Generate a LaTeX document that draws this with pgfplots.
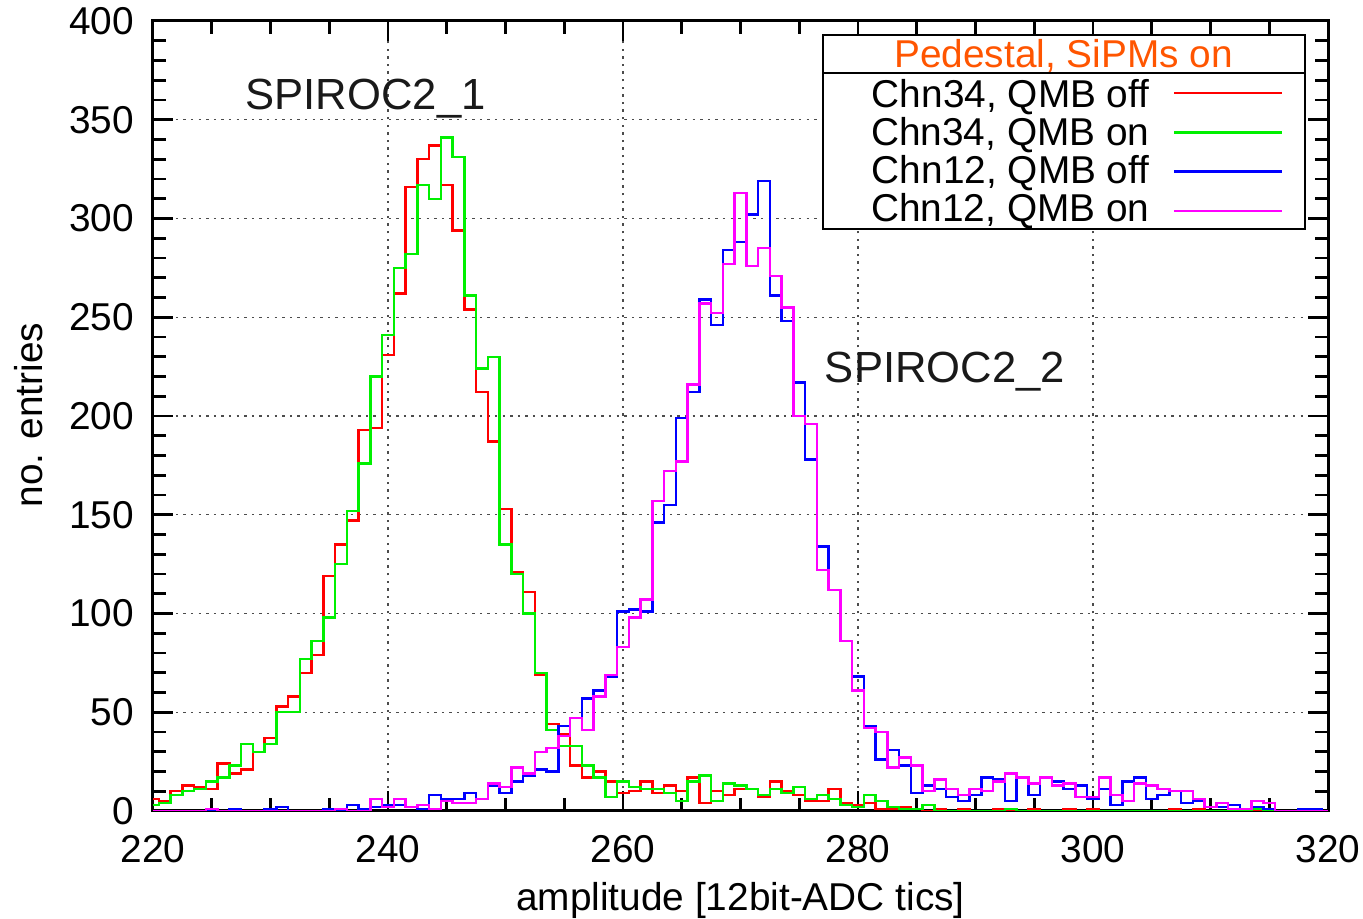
\documentclass[border=0pt]{standalone}
\usepackage{fontspec}
\setmainfont{Liberation Sans}
\usepackage{pgfplots}
\usepackage{pgfplotstable}
\pgfplotsset{compat=1.18}
\definecolor{pedorange}{RGB}{255,85,0}
\definecolor{hred}{RGB}{255,0,0}
\definecolor{hgreen}{RGB}{0,240,0}
\definecolor{hblue}{RGB}{0,0,255}
\definecolor{hmag}{RGB}{255,0,255}
\newcommand{\tfont}{\fontsize{19.4}{23}\selectfont}
\newcommand{\afont}{\fontsize{21.8}{26}\selectfont}

% histogram contents, one row per ADC bin (bin centre)
% r: Chn34 QMB off, g: Chn34 QMB on, b: Chn12 QMB off, m: Chn12 QMB on
\pgfplotstableread{
x r g b m
220 6 3 0 0
221 5 4 0 0
222 10 8 0 0
223 13 10 0 0
224 12 11 0 0
225 11 15 0 1
226 24 17 0 0
227 19 23 1 0
228 21 34 0 0
229 30 30 0 0
230 37 34 1 0
231 53 50 2 0
232 58 50 0 0
233 70 77 0 0
234 79 86 0 0
235 119 98 1 0
236 135 125 0 1
237 147 152 3 0
238 193 176 1 0
239 194 220 2 6
240 231 241 3 2
241 262 275 3 6
242 316 282 2 2
243 330 317 1 3
244 337 310 8 1
245 317 341 6 5
246 294 331 6 4
247 254 261 9 4
248 212 224 6 6
249 187 230 13 14
250 153 135 9 12
251 121 120 15 22
252 111 100 18 19
253 69 70 21 30
254 44 41 20 32
255 39 33 43 38
256 23 33 47 47
257 17 23 57 41
258 20 17 61 58
259 15 7 68 69
260 9 15 101 83
261 10 12 102 98
262 15 11 101 107
263 9 11 146 157
264 13 9 155 172
265 10 5 199 177
266 17 15 212 216
267 4 18 259 257
268 10 5 246 252
269 8 14 284 277
270 11 13 288 313
271 11 11 302 276
272 7 8 319 285
273 15 11 261 271
274 10 9 248 255
275 8 12 217 200
276 5 6 178 196
277 5 8 134 122
278 11 6 112 112
279 4 3 86 86
280 3 2 68 61
281 4 8 43 42
282 1 5 26 40
283 1 2 31 22
284 2 1 23 27
285 1 1 9 23
286 0 3 13 10
287 1 0 11 16
288 0 0 7 11
289 1 0 5 8
290 0 0 8 11
291 0 0 17 10
292 1 0 16 15
293 0 1 5 19
294 0 0 17 17
295 1 0 8 14
296 0 0 17 17
297 0 0 15 13
298 1 0 11 14
299 0 0 13 7
300 1 0 6 7
301 0 0 11 17
302 0 0 3 8
303 0 0 15 5
304 0 0 17 14
305 0 0 6 13
306 0 0 8 11
307 1 0 10 10
308 0 0 4 10
309 1 0 5 6
310 0 0 2 2
311 0 0 2 4
312 0 0 3 1
313 0 0 1 1
314 0 1 2 5
315 0 0 1 4
316 0 0 0 0
317 0 0 0 0
318 1 0 1 0
319 0 0 1 0
320 0 0 0 0
}\hist

\begin{document}
\begin{tikzpicture}
\begin{axis}[
  scale only axis, width=587.5pt, height=395pt,
  xmin=220, xmax=320, ymin=0, ymax=400,
  xtick={220,240,...,320}, ytick={0,50,...,400},
  minor x tick num=3, minor y tick num=4,
  tick align=inside, tick pos=both,
  major tick length=10pt, minor tick length=6.5pt,
  every tick/.style={black, line width=1.3pt},
  axis line style={line width=1.5pt},
  grid=major,
  major grid style={black!70, line width=0.6pt, dash pattern=on 1.2pt off 2.6pt},
  /pgf/number format/assume math mode=true,
  tick label style={font=\tfont},
  xticklabel style={yshift=-8.5pt},
  yticklabel style={xshift=-6pt},
  xlabel={amplitude [12bit-ADC tics]},
  ylabel={no. entries},
  label style={font=\tfont},
  xlabel style={at={(axis description cs:0.5,-0.113)}, anchor=center},
  ylabel style={at={(axis description cs:-0.1055,0.501)}, anchor=center},
  every axis plot/.append style={const plot mark mid, line width=1.2pt},
]
\addplot[hred] table[x=x, y=r] {\hist};
\addplot[hgreen] table[x=x, y=g] {\hist};
\addplot[hblue] table[x=x, y=b] {\hist};
\addplot[hmag] table[x=x, y=m] {\hist};

\node[font=\afont, text=black!90] at (axis cs:238.1,360.6) {SPIROC2\textunderscore 1};
\node[font=\afont, text=black!90] at (axis cs:287.4,222.4) {SPIROC2\textunderscore 2};

% gnuplot-style key
\draw[line width=1pt, fill=white] (axis cs:276.99,294.6) rectangle (axis cs:318.04,393.0);
\draw[line width=1pt] (axis cs:276.99,373.6) -- (axis cs:318.04,373.6);
\node[font=\tfont, text=pedorange, anchor=base, inner sep=0pt] at (axis cs:297.5,376.6) {Pedestal, SiPMs on};
\node[font=\tfont, anchor=base east, inner sep=0pt] at (axis cs:304.84,356.0) {Chn34, QMB off};
\node[font=\tfont, anchor=base east, inner sep=0pt] at (axis cs:304.84,337.0) {Chn34, QMB on};
\node[font=\tfont, anchor=base east, inner sep=0pt] at (axis cs:304.84,317.7) {Chn12, QMB off};
\node[font=\tfont, anchor=base east, inner sep=0pt] at (axis cs:304.84,298.3) {Chn12, QMB on};
\draw[hred, line width=1.2pt] (axis cs:306.9,363.6) -- (axis cs:316.1,363.6);
\draw[hgreen, line width=1.2pt] (axis cs:306.9,343.6) -- (axis cs:316.1,343.6);
\draw[hblue, line width=1.2pt] (axis cs:306.9,323.7) -- (axis cs:316.1,323.7);
\draw[hmag, line width=1.2pt] (axis cs:306.9,303.9) -- (axis cs:316.1,303.9);

\coordinate (bbsw) at (axis description cs:-0.13021,-0.13671);
\coordinate (bbne) at (axis description cs:1.02979,1.02658);
\end{axis}
\pgfresetboundingbox
\path (bbsw) rectangle (bbne);
\end{tikzpicture}
\end{document}
